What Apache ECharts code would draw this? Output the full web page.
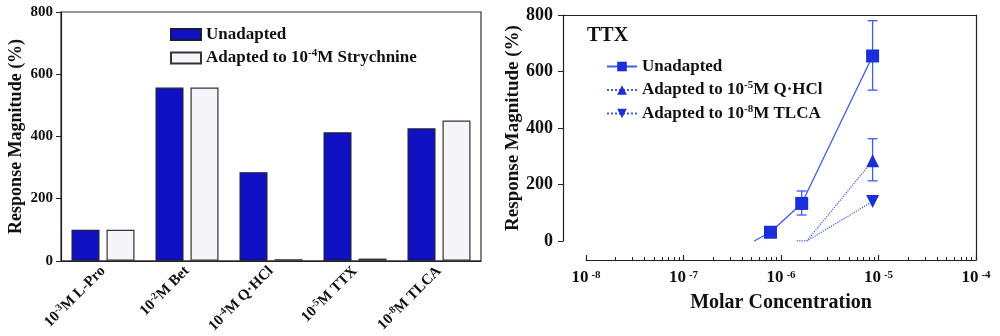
<!DOCTYPE html>
<html><head><meta charset="utf-8">
<script src="https://cdn.jsdelivr.net/npm/echarts@6/dist/echarts.min.js"></script>
<style>html,body{margin:0;padding:0;background:#fff}#c{width:1000px;height:336px}</style>
</head><body><div id="c"></div>
<script>
// ---- data: left bar chart ----
const barCategories = ['L-Pro', 'Bet', 'Q\u00b7HCl', 'TTX', 'TLCA'];
const barExponents = ['-3', '-2', '-4', '-5', '-8'];
const barSeriesNames = ['Unadapted', 'Adapted to 10-4M Strychnine'];
const unadaptedBars = [100, 557, 285, 413, 426];
const strychnineBars = [100, 557, 5, 7, 451];
const barYTicks = [0, 200, 400, 600, 800];

// ---- data: right TTX dose-response ----
const lineSeriesNames = ['Unadapted (TTX)', 'Adapted to 10-5M Q\u00b7HCl', 'Adapted to 10-8M TLCA'];
const ttxUnadaptedStart = [[5.3e-7, 0]];
const ttxUnadapted = [[7.8e-7, 31], [1.63e-6, 133], [8.7e-6, 655]];
const ttxQHClStart = [[1.45e-6, 0], [1.84e-6, 0]];
const ttxQHCl = [[8.7e-6, 284]];
const ttxTLCAStart = [[1.45e-6, 0], [1.84e-6, 0]];
const ttxTLCA = [[8.7e-6, 140]];
const ttxUnadaptedErr = [[1.63e-6, 92, 177], [8.7e-6, 534, 780]];
const ttxQHClErr = [[8.7e-6, 213, 362]];
const decadeTicks = [1e-8, 1e-7, 1e-6, 1e-5, 1e-4];
const minorMultipliers = [2, 3, 4, 5, 6, 7, 8, 9];

const FONT = 'Liberation Serif';
const INK = '#111';
const BAR_BLUE = '#1111c4';
const BAR_LIGHT = '#f4f4f9';
const LINE_BLUE = '#3d5cf2';
const MARK_BLUE = '#1a2fd9';

const minorTicks = [];
decadeTicks.slice(0, -1).forEach(d => minorMultipliers.forEach(m => minorTicks.push(d * m)));

function supRich(str) {
  const m = str.match(/^(.*?10)(-\d)(.*)$/);
  if (!m) return '{n|' + str + '}';
  return '{n|' + m[1] + '}{s|' + m[2] + '}{n|' + m[3] + '}';
}

function errRender(params, api) {
  const x = api.value(0);
  const lo = api.coord([x, api.value(1)]);
  const hi = api.coord([x, api.value(2)]);
  const w = 5;
  const style = { stroke: LINE_BLUE, lineWidth: 1.3, fill: null };
  return { type: 'group', children: [
    { type: 'line', shape: { x1: lo[0], y1: lo[1], x2: hi[0], y2: hi[1] }, style },
    { type: 'line', shape: { x1: lo[0] - w, y1: lo[1], x2: lo[0] + w, y2: lo[1] }, style },
    { type: 'line', shape: { x1: hi[0] - w, y1: hi[1], x2: hi[0] + w, y2: hi[1] }, style }
  ]};
}

function withStart(start, pts) {
  return start.map(p => ({ value: p, symbol: 'none' })).concat(pts);
}

const chart = echarts.init(document.getElementById('c'), null, { renderer: 'canvas' });

const legendRich = {
  n: { fontFamily: FONT, fontWeight: 'bold', fontSize: 17, color: INK, lineHeight: 20 },
  s: { fontFamily: FONT, fontWeight: 'bold', fontSize: 11, color: INK, lineHeight: 11, verticalAlign: 'top' }
};

chart.setOption({
  backgroundColor: '#fff',
  animation: false,
  title: {
    text: 'TTX', left: 582, top: 21,
    textStyle: { fontFamily: FONT, fontWeight: 'bold', fontSize: 20, color: INK }
  },
  legend: [
    {
      data: barSeriesNames, orient: 'vertical', left: 165, top: 21,
      icon: 'rect', itemWidth: 30, itemHeight: 11, itemGap: 5,
      formatter: name => supRich(name),
      textStyle: { rich: legendRich }
    },
    {
      data: lineSeriesNames, orient: 'vertical', left: 601, top: 53,
      itemWidth: 30, itemHeight: 12, itemGap: 5,
      formatter: name => supRich(name.replace(' (TTX)', '')),
      textStyle: { rich: legendRich }
    }
  ],
  grid: [
    { left: 61, right: 519, top: 12, bottom: 74, show: true, borderColor: '#333', borderWidth: 1.2, backgroundColor: 'transparent' },
    { left: 563, right: 24, top: 15, bottom: 95 },
    { left: 586, right: 24, top: 241, bottom: 76 }
  ],
  xAxis: [
    {
      gridIndex: 0, type: 'category', data: barCategories,
      axisLine: { lineStyle: { color: '#222', width: 1.2 } },
      axisTick: { show: false },
      axisLabel: {
        rotate: 45, margin: 8, interval: 0,
        formatter: (v, i) => '{n|10}{s|' + barExponents[i] + '}{n|M ' + v + '}',
        rich: {
          n: { fontFamily: FONT, fontWeight: 'bold', fontSize: 15, color: INK, lineHeight: 17 },
          s: { fontFamily: FONT, fontWeight: 'bold', fontSize: 10, color: INK, lineHeight: 10, verticalAlign: 'top' }
        }
      }
    },
    {
      gridIndex: 1, type: 'log', logBase: 10, position: 'top',
      min: Math.pow(10, -8 - 23 / 97.5), max: 1e-4,
      axisLine: { show: true, onZero: false, lineStyle: { color: '#222', width: 1.2 } },
      axisTick: { show: false }, axisLabel: { show: false }, splitLine: { show: false }
    },
    {
      gridIndex: 2, type: 'log', logBase: 10, position: 'bottom',
      min: 1e-8, max: 1e-4,
      axisLine: { show: true, onZero: false, lineStyle: { color: '#222', width: 1.2 } },
      axisTick: { show: true, inside: true, length: 5, customValues: decadeTicks, lineStyle: { color: '#222', width: 1.2 } },
      axisLabel: {
        customValues: decadeTicks, margin: 8,
        formatter: v => '{n|10}{s|' + Math.round(Math.log10(v)) + '}',
        rich: {
          n: { fontFamily: FONT, fontWeight: 'bold', fontSize: 17, color: INK, lineHeight: 19 },
          s: { fontFamily: FONT, fontWeight: 'bold', fontSize: 11, color: INK, lineHeight: 11, verticalAlign: 'top', padding: [2, 0, 0, 3] }
        }
      },
      splitLine: { show: false },
      name: 'Molar Concentration', nameLocation: 'middle', nameGap: 33,
      nameTextStyle: { fontFamily: FONT, fontWeight: 'bold', fontSize: 20, color: INK }
    },
    {
      gridIndex: 2, type: 'log', logBase: 10, position: 'bottom',
      min: 1e-8, max: 1e-4,
      axisLine: { show: false, onZero: false },
      axisTick: { show: true, inside: true, length: 3, customValues: minorTicks, lineStyle: { color: '#222', width: 1 } },
      axisLabel: { show: false }, splitLine: { show: false }
    }
  ],
  yAxis: [
    {
      gridIndex: 0, type: 'value', min: 0, max: 800, interval: 200,
      axisLine: { show: true, onZero: false, lineStyle: { color: '#222', width: 1.2 } },
      axisTick: { show: true, length: 5, lineStyle: { color: '#222' } },
      axisLabel: { margin: 8, fontFamily: FONT, fontWeight: 'bold', fontSize: 15, color: INK },
      splitLine: { show: false },
      name: 'Response Magnitude (%)', nameLocation: 'middle', nameGap: 36,
      nameTextStyle: { fontFamily: FONT, fontWeight: 'bold', fontSize: 18, color: INK }
    },
    {
      gridIndex: 1, type: 'value', min: 0, max: 800, interval: 200, position: 'left',
      axisLine: { show: true, onZero: false, lineStyle: { color: '#222', width: 1.2 } },
      axisTick: { show: true, length: 5, lineStyle: { color: '#222' } },
      axisLabel: { margin: 10, fontFamily: FONT, fontWeight: 'bold', fontSize: 18, color: INK },
      splitLine: { show: false },
      name: 'Response Magnitude (%)', nameLocation: 'middle', nameGap: 39,
      nameTextStyle: { fontFamily: FONT, fontWeight: 'bold', fontSize: 19, color: INK }
    },
    {
      gridIndex: 1, type: 'value', min: 0, max: 800, position: 'right',
      axisLine: { show: true, onZero: false, lineStyle: { color: '#222', width: 1.2 } },
      axisTick: { show: false }, axisLabel: { show: false }, splitLine: { show: false }
    },
    {
      gridIndex: 2, type: 'value', min: 0, max: 1, position: 'right',
      axisLine: { show: true, onZero: false, lineStyle: { color: '#222', width: 1.2 } },
      axisTick: { show: false }, axisLabel: { show: false }, splitLine: { show: false }
    }
  ],
  series: [
    {
      name: barSeriesNames[0], type: 'bar', xAxisIndex: 0, yAxisIndex: 0,
      data: unadaptedBars, barGap: '25%', barCategoryGap: '25%',
      itemStyle: { color: BAR_BLUE, borderColor: '#1c1c3a', borderWidth: 1.2 }
    },
    {
      name: barSeriesNames[1], type: 'bar', xAxisIndex: 0, yAxisIndex: 0,
      data: strychnineBars, barGap: '25%', barCategoryGap: '25%',
      itemStyle: { color: BAR_LIGHT, borderColor: '#333', borderWidth: 1.2 }
    },
    {
      name: lineSeriesNames[0], type: 'line', xAxisIndex: 1, yAxisIndex: 1,
      data: withStart(ttxUnadaptedStart, ttxUnadapted),
      symbol: 'rect', symbolSize: 13, showAllSymbol: true,
      lineStyle: { color: LINE_BLUE, width: 1.3, type: 'solid' },
      itemStyle: { color: MARK_BLUE, borderWidth: 0 }, z: 3
    },
    {
      name: lineSeriesNames[1], type: 'line', xAxisIndex: 1, yAxisIndex: 1,
      data: withStart(ttxQHClStart, ttxQHCl),
      symbol: 'triangle', symbolSize: 13, showAllSymbol: true,
      lineStyle: { color: LINE_BLUE, width: 1.2, type: 'dotted' },
      itemStyle: { color: MARK_BLUE, borderWidth: 0 }, z: 3
    },
    {
      name: lineSeriesNames[2], type: 'line', xAxisIndex: 1, yAxisIndex: 1,
      data: withStart(ttxTLCAStart, ttxTLCA),
      symbol: 'path://M0,0L10,0L5,9Z', symbolSize: 13, showAllSymbol: true,
      lineStyle: { color: LINE_BLUE, width: 1.2, type: 'dotted' },
      itemStyle: { color: MARK_BLUE, borderWidth: 0 }, z: 3
    },
    {
      type: 'custom', xAxisIndex: 1, yAxisIndex: 1, renderItem: errRender,
      data: ttxUnadaptedErr, encode: { x: 0, y: [1, 2] }, z: 2
    },
    {
      type: 'custom', xAxisIndex: 1, yAxisIndex: 1, renderItem: errRender,
      data: ttxQHClErr, encode: { x: 0, y: [1, 2] }, z: 2
    }
  ]
});
</script>
</body></html>
